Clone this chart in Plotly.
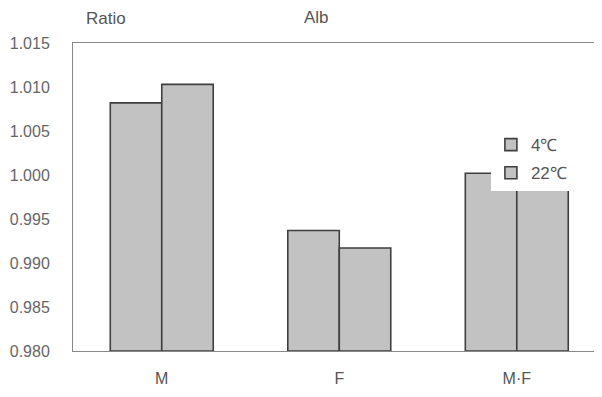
import plotly.graph_objects as go

categories = ["M", "F", "M\u00b7F"]
series_names = ["4\u2103", "22\u2103"]
vals_4c = [1.0082, 0.9937, 1.0002]
vals_22c = [1.0103, 0.9917, 1.0002]
y_ticks = [0.980, 0.985, 0.990, 0.995, 1.000, 1.005, 1.010, 1.015]
y_tick_labels = [f"{v:.3f}" for v in y_ticks]

fig = go.Figure()
for i, (name, vals) in enumerate(zip(series_names, [vals_4c, vals_22c])):
    fig.add_trace(go.Bar(
        x=list(range(len(categories))), y=[v - 0.98 for v in vals], base=0.98,
        name=name, legendgroup=f"g{i}",
        marker=dict(color="#c2c2c2", line=dict(color="#3f3f3f", width=1.6)),
    ))

# page body has an 8px margin: figure is offset by (8, 8) in the window
W, H = 529, 308
fig.update_layout(
    width=594, height=389,
    margin=dict(l=65, r=0, t=35, b=46, autoexpand=False),
    paper_bgcolor="white", plot_bgcolor="white",
    barmode="group", bargap=0.42, bargroupgap=0,
    font=dict(family="Arial, Liberation Sans, sans-serif", color="#555"),
    showlegend=True,
    legend=dict(x=0.79, y=0.727, xanchor="left", yanchor="top",
                bgcolor="white", font=dict(size=17, color="#555"),
                borderwidth=0, itemwidth=30, tracegroupgap=3),
    xaxis=dict(range=[-0.5, 2.48], tickvals=list(range(len(categories))),
               ticktext=categories, showgrid=False, showline=True,
               linecolor="#888", linewidth=1, mirror=True, ticks="",
               automargin=False,
               tickfont=dict(size=16, color="#555"), ticklabelstandoff=13),
    yaxis=dict(range=[0.98, 1.015], tickvals=y_ticks, ticktext=y_tick_labels,
               showgrid=False, showline=True, linecolor="#888", linewidth=1,
               ticks="", zeroline=False, automargin=False,
               tickfont=dict(size=16, color="#666"), ticklabelstandoff=19),
    annotations=[
        dict(text="Ratio", x=(84 - 73) / W, y=(351 - 19) / H, xref="paper", yref="paper",
             xanchor="left", yanchor="middle", showarrow=False,
             font=dict(size=17, color="#555")),
        dict(text="Alb", x=(302 - 73) / W, y=(351 - 18) / H, xref="paper", yref="paper",
             xanchor="left", yanchor="middle", showarrow=False,
             font=dict(size=17, color="#555")),
    ],
)

fig.write_html("out.html")
